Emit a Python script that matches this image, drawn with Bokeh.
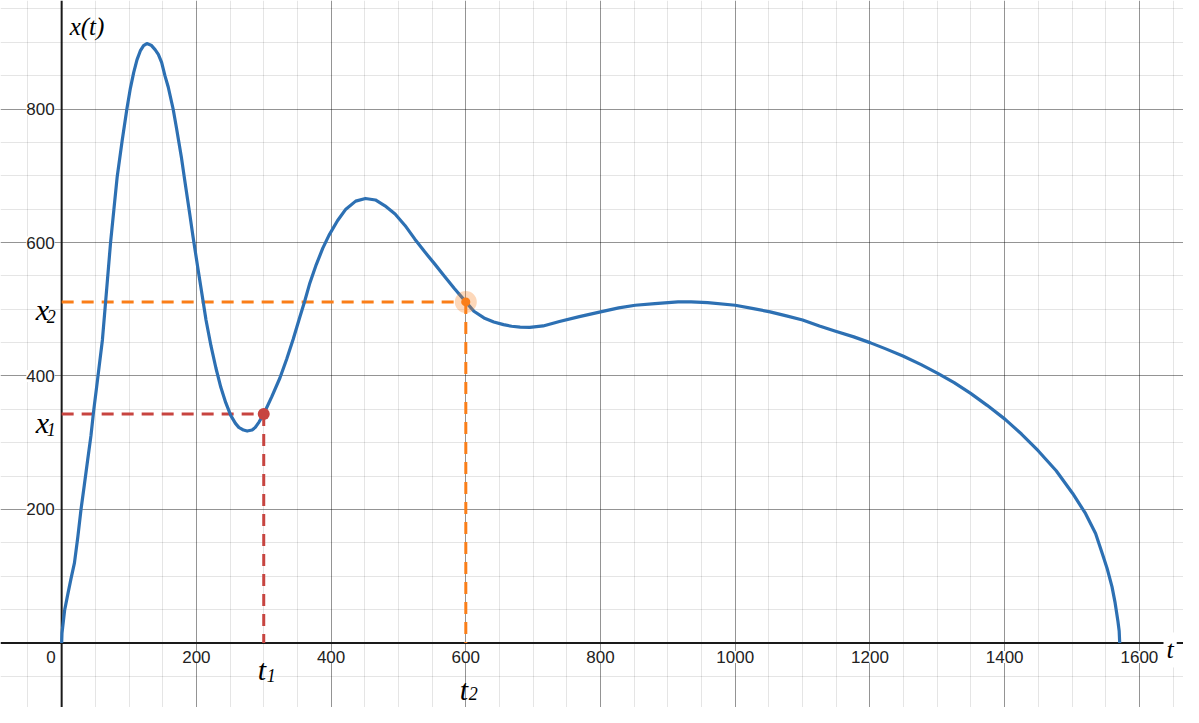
from bokeh.plotting import figure
from bokeh.models import Grid, FixedTicker, Span, Range1d
from bokeh.core.properties import value
from bokeh.embed import file_html
from bokeh.resources import INLINE

# ---- data ----
t_vals = [0, 0.5, 4.4, 9.3, 14.2, 19, 23.9, 28.8, 33.7, 38.6, 43.5, 47.4, 52, 56, 60.5,
          65.4, 72.7, 77.6, 82.5, 89.8, 97, 102, 107, 111.8, 116.7, 121.6, 126.5,
          132.8, 138.7, 143.5, 148.4, 153.3, 158.2, 165.5, 170.4, 177.7, 182.6,
          190, 194.8, 202, 209.5, 214.3, 221.7, 229, 236.3, 243.6, 251, 258, 263,
          270, 275.4, 282.7, 287.5, 293, 300, 312, 324, 334, 343.7, 353.5, 360.8,
          368, 378, 387.7, 397, 409.7, 421.9, 436.5, 451, 465.8, 480, 495, 509.7,
          524.4, 539, 553.7, 568, 583, 600, 612, 627, 641.6, 656, 668, 680.7, 695,
          714.8, 739, 768.6, 800, 827, 851.5, 880.7, 915, 934.5, 959, 1000, 1027,
          1051.7, 1076, 1100, 1125, 1149, 1176, 1200, 1222.6, 1249, 1276, 1300.7,
          1325, 1349.5, 1374, 1400.8, 1425, 1449.7, 1476.5, 1501, 1520, 1535,
          1544.9, 1552, 1559.4, 1564, 1568.2, 1570, 1570.8]
x_vals = [0, 15, 49, 74, 98, 120, 158, 200.7, 237, 274, 310.6, 347, 384, 417, 454,
          513, 601, 650, 699, 752.6, 801, 831, 855, 873.7, 887, 895, 898,
          895.7, 889, 882, 870, 850, 833, 800, 772, 728, 694,
          644, 610, 563, 515, 484, 445, 412, 383, 360, 341, 329, 323,
          319, 317.5, 319, 323, 331, 343, 369, 397, 425, 455, 488, 512,
          537.7, 567, 591.5, 611, 633, 650, 662, 666, 663.7, 655, 642.8, 625.6,
          605, 586, 568, 550, 531, 511, 497, 487, 481, 477, 474.5, 473.3, 472.8,
          475, 481.6, 489, 496, 502, 506, 508.4, 511, 511, 510, 506, 501,
          496, 490, 484, 475, 467, 458.6, 450, 441, 430, 417, 404,
          390, 374, 356, 335, 313, 288, 258, 224, 194, 164,
          134, 112, 84, 60, 32, 18, 0]

t1, x1 = 300, 343
t2, x2 = 600, 511

x_major = [200, 400, 600, 800, 1000, 1200, 1400, 1600]
x_minor = [-50, 50, 100, 150, 250, 300, 350, 450, 500, 550, 650, 700, 750, 850,
           900, 950, 1050, 1100, 1150, 1250, 1300, 1350, 1450, 1500, 1550, 1650]
y_major = [200, 400, 600, 800]
y_minor = [-50, 50, 100, 150, 250, 300, 350, 450, 500, 550, 650, 700, 750, 850, 900, 950]
x_tick_labels = ["200", "400", "600", "800", "1000", "1200", "1400", "1600"]
y_tick_labels = ["200", "400", "600", "800"]

BLUE = "#2d70b3"
RED = "#c74440"
ORANGE = "#fa7e19"

X0, X1 = -90.8, 1665.5
Y0, Y1 = -96.7, 962.6

p = figure(width=1183, height=707,
           x_range=Range1d(X0, X1), y_range=Range1d(Y0, Y1),
           x_axis_type=None, y_axis_type=None,
           toolbar_location=None, output_backend="svg",
           min_border=0, outline_line_color=None,
           background_fill_color="white", border_fill_color="white")

p.add_layout(Grid(dimension=0, ticker=FixedTicker(ticks=x_major, minor_ticks=x_minor),
                  grid_line_color="black", grid_line_alpha=0.42,
                  minor_grid_line_color="black", minor_grid_line_alpha=0.1))
p.add_layout(Grid(dimension=1, ticker=FixedTicker(ticks=y_major, minor_ticks=y_minor),
                  grid_line_color="black", grid_line_alpha=0.42,
                  minor_grid_line_color="black", minor_grid_line_alpha=0.1))

p.add_layout(Span(location=0, dimension="width", line_color="#1a1a1a", line_width=2, level="underlay"))
p.add_layout(Span(location=0, dimension="height", line_color="#1a1a1a", line_width=2, level="underlay"))

# tick labels
p.text(x=x_major, y=[0] * len(x_major), text=x_tick_labels,
       text_font=value("Liberation Sans"), text_font_size="17px", text_color="#222222",
       text_align="center", text_baseline="middle", y_offset=14,
       background_fill_color="white")
p.text(x=[0] * len(y_major), y=y_major, text=y_tick_labels,
       text_font=value("Liberation Sans"), text_font_size="17px", text_color="#222222",
       text_align="right", text_baseline="middle", x_offset=-7,
       background_fill_color="white")
p.text(x=[0], y=[0], text=["0"],
       text_font=value("Liberation Sans"), text_font_size="17px", text_color="#222222",
       text_align="right", text_baseline="middle", x_offset=-6, y_offset=14)

# dashed guides
p.segment(x0=[0, t1], y0=[x1, x1], x1=[t1, t1], y1=[x1, 0],
          line_color=RED, line_width=3, line_dash="12 8")
p.segment(x0=[0, t2], y0=[x2, x2], x1=[t2, t2], y1=[x2, 0],
          line_color=ORANGE, line_width=3, line_dash="12 8")

# curve
p.line(t_vals, x_vals, line_color=BLUE, line_width=3.2, line_join="round")

# points
p.scatter([t1], [x1], size=12, fill_color=RED, line_color=None)
p.scatter([t2], [x2], size=22, fill_color=ORANGE, fill_alpha=0.3, line_color=None)
p.scatter([t2], [x2], size=9, fill_color=ORANGE, line_color=None)

SERIF = value("Liberation Serif")
# axis labels
p.text(x=[0], y=[Y1], text=["x(t)"], text_font=SERIF, text_font_style="italic",
       text_font_size="25px", text_color="black", text_align="left",
       text_baseline="alphabetic", x_offset=8, y_offset=26)
p.text(x=[X1], y=[0], text=["t"], text_font=SERIF, text_font_style="italic",
       text_font_size="26px", text_color="black", text_align="left",
       text_baseline="alphabetic", x_offset=-20, y_offset=7,
       background_fill_color="white", padding=3)

# point labels
p.text(x=[t1, t2], y=[0, 0], text=["t", "t"], text_font=SERIF, text_font_style="italic",
       text_font_size="30px", text_color="black", text_align="left",
       text_baseline="alphabetic", x_offset=-6, y_offset=[27, 47])
p.text(x=[t1, t2], y=[0, 0], text=["1", "2"], text_font=SERIF, text_font_style="italic",
       text_font_size="18px", text_color="black", text_align="left",
       text_baseline="alphabetic", x_offset=3, y_offset=[33, 51])
p.text(x=[0, 0], y=[x1, x2], text=["x", "x"], text_font=SERIF, text_font_style="italic",
       text_font_size="30px", text_color="black", text_align="left",
       text_baseline="alphabetic", x_offset=-26, y_offset=8)
p.text(x=[0, 0], y=[x1, x2], text=["1", "2"], text_font=SERIF, text_font_style="italic",
       text_font_size="18px", text_color="black", text_align="left",
       text_baseline="alphabetic", x_offset=-15, y_offset=15)

open("out.html", "w").write(file_html(p, INLINE))
